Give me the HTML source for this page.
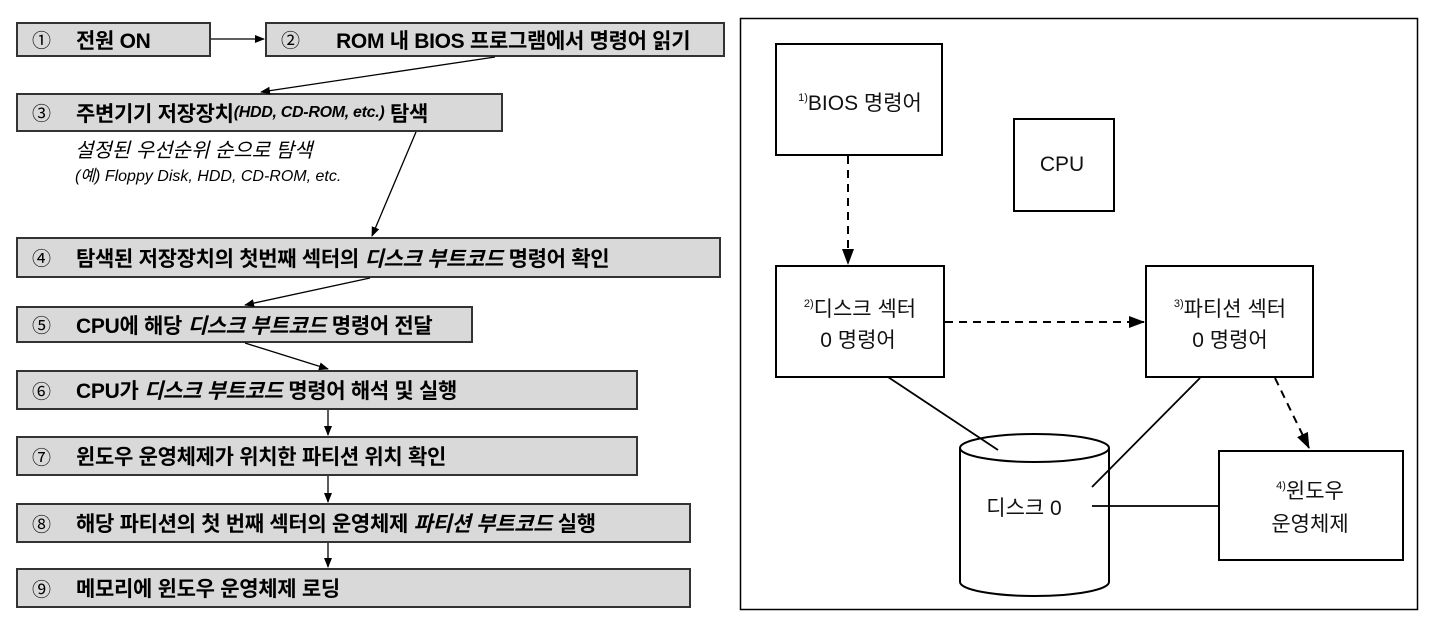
<!DOCTYPE html>
<html><head><meta charset="utf-8"><style>
body{margin:0;background:#fff;width:1430px;height:620px;position:relative;overflow:hidden;font-family:"Liberation Sans","Noto Sans CJK KR",sans-serif}
.b{position:absolute;background:#d9d9d9;border:2px solid #333;box-sizing:border-box;font-weight:bold;font-size:21px;display:flex;align-items:center;padding-left:14px;white-space:nowrap;letter-spacing:-0.3px}
.b .n{display:inline-block;width:44px;font-weight:normal;font-size:19px}
i{font-style:italic}
.t{position:absolute;white-space:nowrap}
</style></head><body>
<div class="b" style="left:16px;top:22px;width:195px;height:35px"><span class="n">①</span>전원 ON</div>
<div class="b" style="left:265px;top:22px;width:460px;height:35px"><span class="n">②</span>&nbsp;&nbsp;ROM 내 BIOS 프로그램에서 명령어 읽기</div>
<div class="b" style="left:16px;top:93px;width:487px;height:39px"><span class="n">③</span>주변기기 저장장치<i style="font-size:16px">(HDD, CD-ROM, etc.)</i>&nbsp;탐색</div>
<div class="t" style="left:75px;top:134px;font-size:20px;font-style:italic">설정된 우선순위 순으로 탐색</div>
<div class="t" style="left:75px;top:162px;font-size:16px;font-style:italic">(예) Floppy Disk, HDD, CD-ROM, etc.</div>
<div class="b" style="left:16px;top:237px;width:705px;height:41px"><span class="n">④</span>탐색된 저장장치의 첫번째 섹터의&nbsp;<i>디스크 부트코드</i>&nbsp;명령어 확인</div>
<div class="b" style="left:16px;top:306px;width:457px;height:37px"><span class="n">⑤</span>CPU에 해당&nbsp;<i>디스크 부트코드</i>&nbsp;명령어 전달</div>
<div class="b" style="left:16px;top:370px;width:622px;height:40px"><span class="n">⑥</span>CPU가&nbsp;<i>디스크 부트코드</i>&nbsp;명령어 해석 및 실행</div>
<div class="b" style="left:16px;top:436px;width:622px;height:40px"><span class="n">⑦</span>윈도우 운영체제가 위치한 파티션 위치 확인</div>
<div class="b" style="left:16px;top:503px;width:675px;height:40px"><span class="n">⑧</span>해당 파티션의 첫 번째 섹터의 운영체제&nbsp;<i>파티션 부트코드</i>&nbsp;실행</div>
<div class="b" style="left:16px;top:568px;width:675px;height:40px"><span class="n">⑨</span>메모리에 윈도우 운영체제 로딩</div>

<svg width="1430" height="620" style="position:absolute;left:0;top:0" font-family="Liberation Sans, Noto Sans CJK KR, sans-serif">
<defs><marker id="a" markerWidth="10" markerHeight="10" refX="9" refY="5" orient="auto" markerUnits="userSpaceOnUse"><path d="M0,1 L10,5 L0,9z" fill="#000"/></marker>
<marker id="c" markerWidth="16" markerHeight="14" refX="15" refY="7" orient="auto" markerUnits="userSpaceOnUse"><path d="M0,1 L16,7 L0,13z" fill="#000"/></marker></defs>
<g stroke="#000" stroke-width="1.3" fill="none" marker-end="url(#a)">
<line x1="211" y1="39" x2="264" y2="39"/>
<line x1="495" y1="57" x2="261" y2="92"/>
<line x1="416" y1="132" x2="372" y2="236"/>
<line x1="370" y1="278" x2="245" y2="305"/>
<line x1="245" y1="343" x2="328" y2="369"/>
<line x1="328" y1="410" x2="328" y2="435"/>
<line x1="328" y1="476" x2="328" y2="502"/>
<line x1="328" y1="543" x2="328" y2="567"/>
</g>
<rect x="740.5" y="18.5" width="677" height="591" fill="none" stroke="#000" stroke-width="1.5"/>
<g stroke="#000" stroke-width="2" fill="#fff">
<rect x="776" y="44" width="166" height="111"/>
<rect x="1014" y="119" width="100" height="92"/>
<rect x="776" y="266" width="168" height="111"/>
<rect x="1146" y="266" width="167" height="111"/>
<path d="M960,448 L960,582 A74.5,14 0 0 0 1109,582 L1109,448"/>
<ellipse cx="1034.5" cy="448" rx="74.5" ry="14"/>
<rect x="1219" y="451" width="184" height="109"/>
</g>
<g stroke="#000" stroke-width="1.8" fill="none">
<line x1="888" y1="377" x2="998" y2="450"/>
<line x1="1200" y1="378" x2="1092" y2="487"/>
<line x1="1092" y1="506" x2="1219" y2="506"/>
</g>
<g stroke="#000" stroke-width="2" fill="none" stroke-dasharray="8,6" marker-end="url(#c)">
<line x1="848" y1="156" x2="848" y2="264"/>
<line x1="945" y1="322" x2="1144" y2="322"/>
<line x1="1275" y1="378" x2="1309" y2="448"/>
</g>
<g font-size="21" text-anchor="middle" fill="#111">
<text x="860" y="110"><tspan font-size="11" dy="-9">1)</tspan><tspan dy="9">BIOS 명령어</tspan></text>
<text x="1062" y="171">CPU</text>
<text x="860" y="316"><tspan font-size="11" dy="-9">2)</tspan><tspan dy="9">디스크 섹터</tspan></text>
<text x="858" y="347">0 명령어</text>
<text x="1230" y="316"><tspan font-size="11" dy="-9">3)</tspan><tspan dy="9">파티션 섹터</tspan></text>
<text x="1230" y="347">0 명령어</text>
<text x="1310" y="498"><tspan font-size="11" dy="-9">4)</tspan><tspan dy="9">윈도우</tspan></text>
<text x="1310" y="531">운영체제</text>
<text x="1024" y="515">디스크 0</text>
</g>
</svg>
</body></html>
